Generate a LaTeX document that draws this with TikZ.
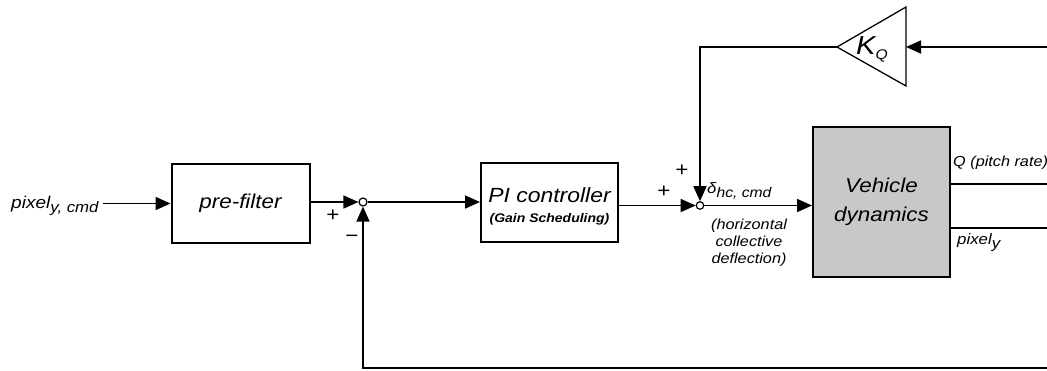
\documentclass[tikz,border=0pt]{standalone}
\usepackage{fontspec}
\setmainfont{Liberation Sans}[FakeStretch=1.12]
\usetikzlibrary{arrows.meta}
\newcommand{\fsz}[1]{\fontsize{#1}{#1}\selectfont}
\definecolor{vgray}{RGB}{200,200,200}
\begin{document}
\begin{tikzpicture}[x=1pt,y=-1pt,
  wire/.style={line width=1.7pt},
  arr/.style={wire,-{Triangle[length=15pt,width=13pt]}},
  blk/.style={draw,line width=2pt,inner sep=0pt},
  sumnode/.style={circle,draw,line width=1.2pt,minimum size=8pt,inner sep=0pt,fill=white},
  lbl/.style={inner sep=0pt},
  ]
\useasboundingbox (0,0) rectangle (1047,370);

% input label
\node[lbl,anchor=base west,font=\itshape\fsz{17}] (pin) at (11,208) {pixel\raisebox{-4pt}{\fsz{15}y, cmd}};

% blocks
\node[blk,minimum width=138pt,minimum height=79pt,font=\itshape\fsz{20}] (pre) at (240.5,203.5) {pre-filter};
\node[sumnode] (s1) at (363,202) {};
\node[blk,minimum width=137pt,minimum height=79pt] (pi) at (549.5,202.5) {};
\node[lbl,font=\itshape\fsz{20.5}] (pit) at (549.5,195) {PI controller};
\node[lbl,font=\itshape\bfseries\fsz{12.5}] (pig) at (549.5,219) {(Gain Scheduling)};
\node[sumnode,minimum size=7.5pt] (s2) at (700,205.5) {};
\node[blk,fill=vgray,minimum width=137pt,minimum height=150pt,align=center,font=\itshape\fontsize{20}{29}\selectfont] (veh) at (881.5,202) {Vehicle\\dynamics};

% gain triangle
\coordinate (kt) at (837,47);
\coordinate (kb1) at (906,7);
\coordinate (kb2) at (906,86);
\coordinate (kbm) at (906,47);
\draw[line width=1.3pt,line join=miter] (kt) -- (kb1) -- (kb2) -- cycle;
\node[lbl,anchor=base west,font=\itshape\fsz{26}] (kq) at (856,54) {K\raisebox{-5pt}{\fsz{14}Q}};

% free ends
\coordinate (qend) at (1047,184);
\coordinate (pend) at (1047,228);
\coordinate (ktop) at (1047,47);
\coordinate (fb) at (1047,368);

% connectors
\draw[arr] ([xshift=4pt]pin.east |- pre.west) -- (pre.west);
\draw[arr] (pre.east |- s1) -- (s1.west);
\draw[arr] (s1.east) -- (pi.west |- s1);
\draw[arr] (pi.east |- s2) -- (s2.west);
\draw[arr] (s2.east) -- (veh.west |- s2);
\draw[wire] (veh.east |- qend) -- (qend);
\draw[wire] (veh.east |- pend) -- (pend);
\draw[arr] (ktop) -- (kbm);
\draw[arr] (kt) -| (s2.north);
\draw[arr] (fb) -| (s1.south);

% signs and labels
\node[lbl,font=\fsz{20}] (p1) at (333,216) {+};
\node[lbl,font=\fsz{20}] (m1) at (352,239) {\symbol{"2212}};
\node[lbl,font=\fsz{20}] (p2) at (664,192) {+};
\node[lbl,font=\fsz{20}] (p3) at (682,171) {+};
\node[lbl,anchor=base west,font=\itshape\fsz{15}] (dl) at (707,193) {δ\raisebox{-4pt}{\fsz{14}hc, cmd}};
\node[lbl,align=center,font=\itshape\fontsize{14.5}{17}\selectfont] (defl) at (749,243) {(horizontal\\collective\\deflection)};
\node[lbl,anchor=west,font=\itshape\fsz{14.5}] (ql) at (953,163) {Q (pitch rate)};
\node[lbl,anchor=base west,font=\itshape\fsz{15}] (pl) at (957,244) {pixel\raisebox{-4pt}{y}};
\end{tikzpicture}
\end{document}
